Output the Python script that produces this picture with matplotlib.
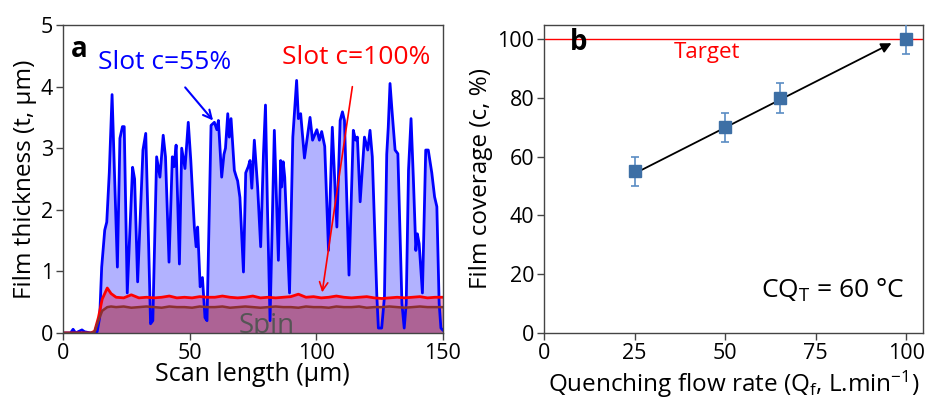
import matplotlib
matplotlib.use("Agg")
import matplotlib.pyplot as plt
import numpy as np

plt.rcParams['font.family'] = ['Open Sans', 'DejaVu Sans']
plt.rcParams['mathtext.fontset'] = 'custom'
plt.rcParams['mathtext.rm'] = 'Open Sans'
plt.rcParams['mathtext.it'] = 'Open Sans'

# panel a: slot c=55% profile
blue_x = [0, 3, 4, 5, 6.5, 7.5, 8.5, 11, 13.5, 14.5, 15.3, 16.5, 17.3, 18.3, 19.4,
          20.5, 21.5, 22.5, 23.5, 24.2, 25.4, 27.5, 28.3, 29.5, 31.6, 32.7, 33.5,
          34.6, 35.5, 37, 38.3, 39.6, 40.5, 41.9, 43.2, 43.9, 44.7, 46, 46.9, 48.2,
          49.5, 50.5, 51.9, 52.6, 53.2, 54.2, 55.1, 56.1, 56.9, 58.5, 59.8, 60.8,
          61.4, 62.7, 63.6, 64.2, 65.1, 65.7, 66.4, 67.7, 68.5, 69.0, 69.9, 71.3,
          72.2, 73.2, 73.9, 74.6, 75.6, 76.9, 78.1, 79.2, 80.0, 80.8, 81.8, 83.5,
          85.1, 86.0, 86.4, 87.0, 87.6, 89.5, 90.8, 92.3, 93.0, 93.9, 95.4, 97.6,
          98.6, 100.3, 101.3, 102.2, 103.4, 104.9, 106.4, 108.2, 109.5, 110.4,
          111.2, 113.0, 114.7, 115.6, 116.3, 117.4, 119.1, 120.4, 121.3, 122.2,
          124.0, 124.6, 125.9, 127.0, 127.9, 128.5, 129.2, 130.0, 131.2, 132.3,
          133.9, 134.8, 135.6, 136.5, 137.5, 138.4, 139.4, 140.0, 140.7, 142.0,
          143.3, 144.3, 145.7, 146.8, 147.7, 148.6, 149.3, 150]
blue_y = [0, 0, 0.06, 0, 0.03, 0.05, 0.02, 0, 0.02, 0.25, 1.07, 1.67, 1.8, 2.6, 3.87,
          2.4, 1.07, 3.16, 3.35, 3.35, 0.65, 2.69, 2.5, 0.83, 2.97, 3.24, 2.0,
          0.15, 0.2, 2.86, 2.53, 3.21, 2.86, 1.15, 2.86, 2.7, 3.05, 1.12, 3.0, 2.67,
          3.42, 2.8, 1.72, 1.4, 1.72, 0.75, 0.9, 0.25, 0.2, 3.37, 3.42, 3.3,
          3.45, 2.53, 2.9, 3.0, 3.56, 3.18, 3.48, 2.64, 2.53, 2.47, 2.2, 0.99,
          2.6, 2.7, 2.8, 2.35, 3.13, 2.37, 1.4, 2.9, 3.7, 2.0, 0.2, 3.29,
          1.18, 2.8, 2.37, 2.78, 2.53, 0.65, 3.18, 4.1, 3.48, 3.56, 2.84, 3.5,
          3.13, 3.3, 3.13, 3.27, 3.03, 1.34, 3.34, 1.72, 3.45, 3.59,
          3.45, 0.94, 3.29, 3.13, 3.18, 2.13, 3.18, 2.97, 3.29, 2.86,
          0.59, 0.08, 0.08, 0.59, 2.9, 3.34, 4.05, 3.6, 2.97, 2.91,
          0.48, 0.08, 0.48, 2.64, 3.48, 2.53, 1.34, 1.61, 1.45, 0.65,
          2.97, 2.97, 2.6, 2.21, 2.05, 0.48, 0.08, 0.05]

# slot c=100% and spin profiles
thin_x = [0, 11, 12.5, 14, 15.5, 17.5, 19] + list(range(21, 151, 3))
red_y = [0, 0, 0.03, 0.25, 0.55, 0.73, 0.64, 0.58, 0.57, 0.62, 0.57, 0.58, 0.57,
         0.58, 0.6, 0.57, 0.58, 0.57, 0.59, 0.58, 0.58, 0.6, 0.58, 0.57, 0.58,
         0.6, 0.57, 0.58, 0.57, 0.58, 0.59, 0.63, 0.58, 0.59, 0.57, 0.58, 0.6,
         0.58, 0.57, 0.58, 0.59, 0.57, 0.56, 0.57, 0.58, 0.57, 0.58, 0.59, 0.57,
         0.58, 0.58]
spin_y = [0, 0, 0.02, 0.2, 0.36, 0.42, 0.43, 0.42, 0.43, 0.41, 0.42, 0.43, 0.42,
          0.41, 0.43, 0.42, 0.42, 0.41, 0.43, 0.42, 0.42, 0.43, 0.41, 0.42, 0.43,
          0.42, 0.41, 0.42, 0.43, 0.42, 0.42, 0.41, 0.43, 0.42, 0.42, 0.41, 0.43,
          0.42, 0.42, 0.43, 0.41, 0.42, 0.42, 0.43, 0.42, 0.41, 0.42, 0.43, 0.42,
          0.42, 0.42]

# panel b
flow = [25, 50, 65, 100]
coverage = [55, 70, 80, 100]
cov_err = [5, 5, 5, 5]
target = 100

fig = plt.figure(figsize=(9.3, 4.01), dpi=100)
ax1 = fig.add_axes([0.0677, 0.1696, 0.4083, 0.7681])
ax2 = fig.add_axes([0.585, 0.1696, 0.4075, 0.7681])

ax1.fill_between(blue_x, blue_y, 0, color='blue', alpha=0.3, lw=0)
ax1.plot(blue_x, blue_y, color='blue', lw=2)
ax1.fill_between(thin_x, red_y, 0, color='#e8003c', alpha=0.35, lw=0)
ax1.plot(thin_x, red_y, color='red', lw=2)
ax1.fill_between(thin_x, spin_y, 0, color='#7a4040', alpha=0.3, lw=0)
ax1.plot(thin_x, spin_y, color='#8b3030', lw=1.8)

ax1.set_xlim(0, 150)
ax1.set_ylim(0, 5)
ax1.set_xticks([0, 50, 100, 150])
ax1.set_yticks([0, 1, 2, 3, 4, 5])
ax1.set_xlabel('Scan length (µm)', fontsize=18, labelpad=-1)
ax1.set_ylabel('Film thickness (t, µm)', fontsize=17.5, labelpad=3)
ax1.text(3, 4.6, 'a', fontsize=20, fontweight='bold', va='center', ha='left')
ax1.text(80.5, 0.0, 'Spin', fontsize=20, color='#555555', ha='center', va='baseline',
         clip_on=True, zorder=1.5)
ax1.annotate('Slot c=55%', xy=(59.3, 3.45), xytext=(40, 4.39), fontsize=19, color='blue',
             ha='center', va='center',
             arrowprops=dict(arrowstyle='->', color='blue', lw=1.5, shrinkA=9, shrinkB=0,
                             mutation_scale=15))
ax1.annotate('Slot c=100%', xy=(102.4, 0.66), xytext=(116, 4.47), fontsize=19, color='red',
             ha='center', va='center',
             arrowprops=dict(arrowstyle='->', color='red', lw=1.2, shrinkA=10, shrinkB=0,
                             mutation_scale=15))

mc = '#3d6fa5'
ax2.axhline(target, color='red', lw=1)
ax2.text(45, 95.3, 'Target', color='red', fontsize=16, ha='center', va='center')
ax2.errorbar(flow, coverage, yerr=cov_err, fmt='s', color=mc, ecolor='#5a8cc4',
             ms=8, capsize=3, elinewidth=1.2, capthick=1.2, zorder=3)
ax2.annotate('', xy=(95.9, 98.6), xytext=(26, 54.9),
             arrowprops=dict(arrowstyle='-|>', color='black', lw=1.3,
                             mutation_scale=15, shrinkA=0, shrinkB=0))
ax2.text(7, 99, 'b', fontsize=20, fontweight='bold', va='center', ha='left')
ax2.text(79.5, 14.6, 'CQ$_\\mathrm{T}$ = 60 °C', fontsize=19, ha='center', va='center')
ax2.set_xlim(0, 104.6)
ax2.set_ylim(0, 104.8)
ax2.set_xticks([0, 25, 50, 75, 100])
ax2.set_yticks([0, 20, 40, 60, 80, 100])
ax2.set_xlabel('Quenching flow rate (Q$_\\mathrm{f}$, L.min$^{\\mathrm{-1}}$)', fontsize=17.5,
               labelpad=4)
ax2.set_ylabel('Film coverage (c, %)', fontsize=17.5, labelpad=3)

for ax in (ax1, ax2):
    for s in ax.spines.values():
        s.set_color('#444444')
        s.set_linewidth(1)
    ax.tick_params(labelsize=15.5, color='#444444', length=5, width=1, pad=2)

fig.savefig('out.png', dpi=100)
